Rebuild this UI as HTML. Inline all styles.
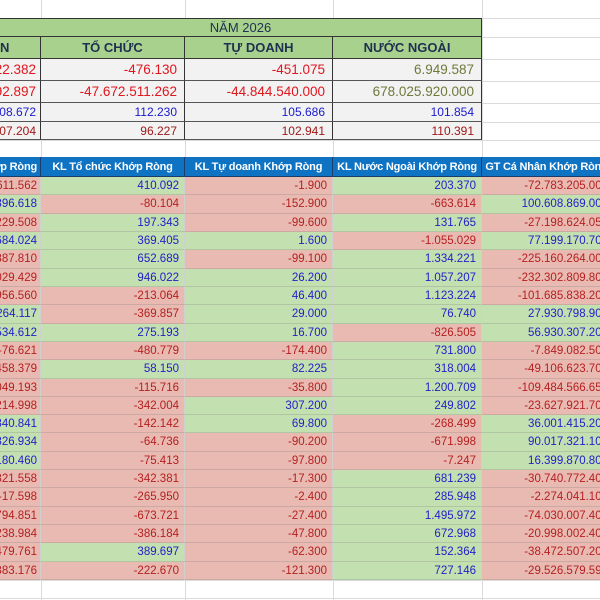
<!DOCTYPE html>
<html><head><meta charset="utf-8">
<style>
html,body{margin:0;padding:0;width:600px;height:600px;overflow:hidden;background:#fff;}
body{position:relative;font-family:"Liberation Sans","DejaVu Sans",sans-serif;}
#root{position:absolute;left:0;top:0;width:600px;height:600px;overflow:hidden;}
.c{position:absolute;box-sizing:border-box;white-space:nowrap;overflow:hidden;font-size:12.5px;display:flex;align-items:center;}
.g{position:absolute;background:#dadada;}
</style></head>
<body>
<div id="root"></div>
<script>
const colA=["-611.562","896.618","-229.508","684.024","-887.810","-029.429","-956.560","264.117","534.612","-76.621","-458.379","-049.193","-214.998","340.841","826.934","180.460","-321.558","-17.598","-794.851","-238.984","-479.761","-383.176"];
const colB=["410.092","-80.104","197.343","369.405","652.689","946.022","-213.064","-369.857","275.193","-480.779","58.150","-115.716","-342.004","-142.142","-64.736","-75.413","-342.381","-265.950","-673.721","-386.184","389.697","-222.670"];
const colC=["-1.900","-152.900","-99.600","1.600","-99.100","26.200","46.400","29.000","16.700","-174.400","82.225","-35.800","307.200","69.800","-90.200","-97.800","-17.300","-2.400","-27.400","-47.800","-62.300","-121.300"];
const colD=["203.370","-663.614","131.765","-1.055.029","1.334.221","1.057.207","1.123.224","76.740","-826.505","731.800","318.004","1.200.709","249.802","-268.499","-671.998","-7.247","681.239","285.948","1.495.972","672.968","152.364","727.146"];
const colE=["-72.783.205.000","100.608.869.000","-27.198.624.050","77.199.170.700","-225.160.264.000","-232.302.809.800","-101.685.838.200","27.930.798.900","56.930.307.200","-7.849.082.500","-49.106.623.700","-109.484.566.650","-23.627.921.700","36.001.415.200","90.017.321.100","16.399.870.800","-30.740.772.400","-2.274.041.100","-74.030.007.400","-20.998.002.400","-38.472.507.200","-29.526.579.590"];
const topHeaders=["N","TỔ CHỨC","TỰ DOANH","NƯỚC NGOÀI"];
const topRow1=["22.382","-476.130","-451.075","6.949.587"];
const topRow2=["92.897","-47.672.511.262","-44.844.540.000","678.025.920.000"];
const topRow3=["108.672","112.230","105.686","101.854"];
const topRow4=["107.204","96.227","102.941","110.391"];
const bottomHeaders=["ớp Ròng","KL Tổ chức Khớp Ròng","KL Tự doanh Khớp Ròng","KL Nước Ngoài Khớp Ròng","GT Cá Nhân Khớp Ròng"];

const root=document.getElementById('root');
const X=[0,41,185,333,482,612];
function cell(x,y,w,h,txt,st,align){
  const d=document.createElement('div');
  d.className='c';
  d.style.cssText=`left:${x}px;top:${y}px;width:${w}px;height:${h}px;justify-content:${align};`+st;
  d.textContent=txt;
  root.appendChild(d);
  return d;
}
function line(x,y,w,h){
  const d=document.createElement('div');d.className='g';
  d.style.cssText=`left:${x}px;top:${y}px;width:${w}px;height:${h}px;`;
  root.appendChild(d);return d;
}
for(let y of [18,37,59,81,103,122,140,157]){const l=line(0,y,600,1);}
for(let i=0;580+i*18.3<600;i++){const y=580+i*18.3;const l=line(0,Math.round(y),600,1);}
for(let x of [41,185,333,482]){const l=line(x,0,1,600);}

let t=cell(0,18,482,19,"NĂM 2026","background:#a9d18e;color:#1f3050;font-size:13px;border-top:1.5px solid #333;border-bottom:1px solid #333;border-right:1.5px solid #333;","center");

for(let i=0;i<4;i++){
  const w=X[i+1]-X[i];
  let h=cell(X[i],37,w,22,topHeaders[i],`background:#a9d18e;color:#1f3050;font-weight:bold;font-size:13px;border-right:1.5px solid #333;border-bottom:1px solid #333;`,i==0?'flex-start':'center');
  
  const rows=[[topRow1,59,22,'#e0161e'],[topRow2,81,22,'#e0161e'],[topRow3,103,19,'#1a1ad0'],[topRow4,122,18,'#a01818']];
  rows.forEach((r,k)=>{
    let col=r[3];
    if(i==3&&k<2)col='#6f7a3a';
    const fs=k<2?'13.5px':'12px';
    let c=cell(X[i],r[1],w,r[2],r[0][i],`background:#f2f2f2;color:${col};padding-right:${i==0?4:7}px;font-size:${fs};border-right:1.5px solid #333;border-bottom:1px solid #555;`,'flex-end');
    
  });
}
for(let i=0;i<5;i++){
  const w=X[i+1]-X[i];
  let h=cell(X[i],157,w,20,bottomHeaders[i],`background:#0f73c4;color:#fff;font-weight:bold;font-size:11px;letter-spacing:-0.2px;padding-right:${i==0?3:0}px;border-right:1.5px solid #1c3d6a;border-bottom:1px solid #1c3d6a;`,i==0?'flex-end':'center');
  
}
const cols=[colA,colB,colC,colD,colE];
const y0=177,rh=(580-177)/22;
for(let r=0;r<22;r++){
  for(let i=0;i<5;i++){
    const v=cols[i][r];
    const neg=v.trim().startsWith('-');
    const y=Math.round(y0+r*rh),y2=Math.round(y0+(r+1)*rh);
    const w=X[i+1]-X[i];
    const bg=neg?'#e8bab2':'#c3e0b0';
    const fg=neg?'#b52020':'#2020c8';
    let txt=v; if(i==0) txt=v.replace(/^-(?=\d{3}\.)/,'');
    let c=cell(X[i],y,w,y2-y,txt,`background:${bg};color:${fg};font-size:11.5px;padding-right:${i==0?3:i==4?3:5}px;border-right:1px solid #d0d0d0;border-bottom:1px solid rgba(120,120,120,0.25);`,'flex-end');
    
    
  }
}
</script>
</body></html>
